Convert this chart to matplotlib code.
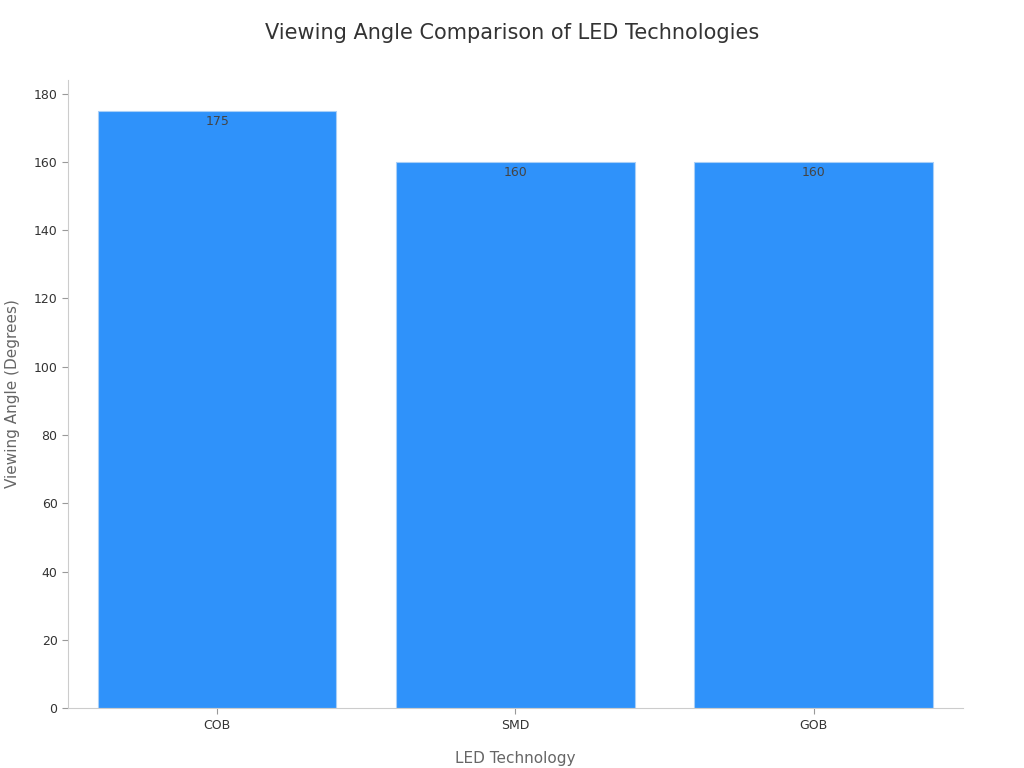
import matplotlib
matplotlib.use("Agg")
import matplotlib.pyplot as plt

technologies = ["COB", "SMD", "GOB"]
viewing_angles = [175, 160, 160]

fig = plt.figure(figsize=(10.24, 7.68), dpi=100)
ax = fig.add_axes([0.0664, 0.078, 0.874, 0.818])

bars = ax.bar(technologies, viewing_angles, width=0.8, color="#2f92fa",
              edgecolor="#a9cff7", linewidth=0.8)
for b, v in zip(bars, viewing_angles):
    ax.text(b.get_x() + b.get_width() / 2, v - 1.2, str(v), ha="center", va="top",
            fontsize=9, color="#444444")

ax.set_xlim(-0.5, 2.5)
ax.set_ylim(0, 184)
ax.set_yticks(range(0, 181, 20))
ax.tick_params(labelsize=9, colors="#333333", length=4)
ax.tick_params(axis="both", color="#999999")
for s in ("top", "right"):
    ax.spines[s].set_visible(False)
for s in ("left", "bottom"):
    ax.spines[s].set_color("#cccccc")

ax.set_xlabel("LED Technology", fontsize=11, color="#666666", labelpad=14)
ax.set_ylabel("Viewing Angle (Degrees)", fontsize=11, color="#666666", labelpad=10)
fig.text(0.5, 0.957, "Viewing Angle Comparison of LED Technologies",
         ha="center", va="center", fontsize=15, color="#333333")

fig.savefig("out.png", dpi=100)
